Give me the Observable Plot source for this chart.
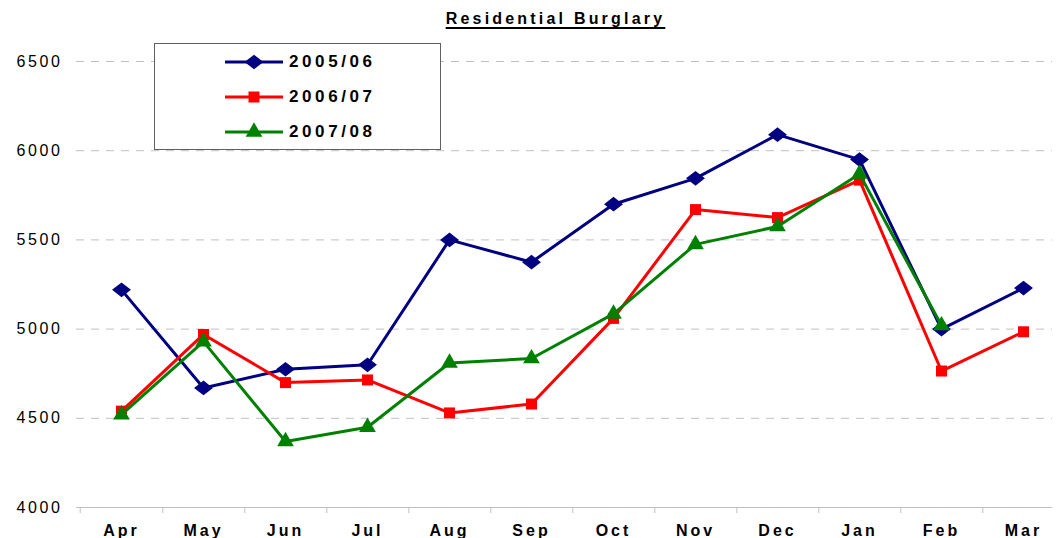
<!DOCTYPE html>
<html>
<head>
<meta charset="utf-8">
<script src="https://cdn.jsdelivr.net/npm/d3@7"></script>
<script src="https://cdn.jsdelivr.net/npm/@observablehq/plot@0.6"></script>
<style>
  html, body { margin: 0; padding: 0; background: #fff; overflow: hidden; }
  #wrap { position: relative; width: 1059px; height: 538px; font-family: "Liberation Sans", Arial, sans-serif; }
  #title { height: 36px; box-sizing: border-box; padding-top: 10px; text-align: center; font-size: 16px; font-weight: bold;
    letter-spacing: 3.2px; text-decoration: underline; text-decoration-thickness: 2px; text-underline-offset: 3px; line-height: 18px; color: #000; padding-left: 52px; }
  #legend { position: absolute; left: 154px; top: 43px; width: 287px; height: 107px; box-sizing: border-box;
    border: 1px solid #606060; background: #fff; }
  .lrow { position: absolute; left: 70px; height: 24px; display: flex; align-items: center; }
  .lrow span { font-size: 17px; font-weight: bold; letter-spacing: 3.6px; margin-left: 4px; color: #000; }
  svg g[aria-label="y-axis tick label"] text { letter-spacing: 2.6px; }
  svg g[aria-label="x-axis tick label"] text { letter-spacing: 3px; }
</style>
</head>
<body>
<div id="wrap">
  <div id="title">Residential Burglary</div>
  <div id="chart"></div>
  <div id="legend"></div>
</div>
<script>
const months = ["Apr", "May", "Jun", "Jul", "Aug", "Sep", "Oct", "Nov", "Dec", "Jan", "Feb", "Mar"];
const seriesNames = ["2005/06", "2006/07", "2007/08"];
const s0506 = [5220, 4670, 4775, 4800, 5500, 5375, 5700, 5845, 6090, 5950, 5000, 5230];
const s0607 = [4540, 4970, 4700, 4715, 4530, 4580, 5060, 5670, 5625, 5835, 4765, 4985];
const s0708 = [4520, 4930, 4370, 4450, 4810, 4835, 5085, 5475, 5575, 5870, 5020, null];
const yTicks = [4000, 4500, 5000, 5500, 6000, 6500];
const colors = ["#000080", "#ff0000", "#008000"];

const diamond = {
  draw(context, size) {
    const r = Math.sqrt(size / Math.PI);
    const hw = r * 1.35, hh = r * 1.05;
    context.moveTo(0, -hh); context.lineTo(hw, 0); context.lineTo(0, hh); context.lineTo(-hw, 0); context.closePath();
  }
};
const symbols = [diamond, "square", "triangle"];
const radii = [7, 6.2, 6.2];

const allSeries = [s0506, s0607, s0708];
const table = allSeries.map((vals, i) =>
  months.map((m, j) => ({month: m, series: seriesNames[i], value: vals[j]})).filter(d => d.value != null)
);

const W = 1059, H = 502, ML = 76, MR = 7, MT = 25, MB = 31;
const step = 82.6;
const xRange = [ML, ML + step * months.length];

const marks = [
  Plot.gridY(yTicks.slice(1), {stroke: "#c0c0c0", strokeOpacity: 1, strokeDasharray: "8,7", strokeWidth: 1}),
  Plot.ruleY([4000], {stroke: "#c0c0c0", strokeWidth: 1.2}),
  Plot.axisX(months, {tickSize: 6, tickFormat: () => "", dx: step / 2, stroke: "#c0c0c0"}),
  Plot.axisX([months[0]], {tickSize: 6, tickFormat: () => "", dx: -step / 2, stroke: "#c0c0c0"}),
  Plot.axisX(months, {tickSize: 0, tickPadding: 17, fontSize: 16, fontWeight: "bold", fill: "#000"}),
  Plot.axisY(yTicks, {tickSize: 0, tickPadding: 14, fontSize: 16, fill: "#000", tickFormat: "d"})
];
table.forEach((rows, i) => {
  marks.push(Plot.line(rows, {x: "month", y: "value", stroke: colors[i], strokeWidth: 3}));
  marks.push(Plot.dot(rows, {x: "month", y: "value", symbol: symbols[i], r: radii[i], fill: colors[i], stroke: "none"}));
});

const chart = Plot.plot({
  width: W, height: H,
  marginLeft: ML, marginRight: MR, marginTop: MT, marginBottom: MB,
  style: {fontFamily: "'Liberation Sans', Arial, sans-serif", background: "#fff", overflow: "visible"},
  x: {type: "point", domain: months, padding: 0.5, range: xRange, label: null},
  y: {domain: [4000, 6500], label: null},
  marks
});
document.getElementById("chart").appendChild(chart);

// Legend (HTML overlay)
const legend = d3.select("#legend");
const d3Symbols = [diamond, d3.symbolSquare, d3.symbolTriangle];
seriesNames.forEach((name, i) => {
  const row = legend.append("div").attr("class", "lrow").style("top", (6 + i * 35) + "px");
  const svg = row.append("svg").attr("width", 60).attr("height", 24);
  svg.append("line").attr("x1", 0).attr("x2", 58).attr("y1", 12).attr("y2", 12)
    .attr("stroke", colors[i]).attr("stroke-width", 3);
  svg.append("path").attr("transform", "translate(29,12)")
    .attr("d", d3.symbol(d3Symbols[i], Math.PI * radii[i] * radii[i])())
    .attr("fill", colors[i]);
  row.append("span").text(name);
});
</script>
</body>
</html>
